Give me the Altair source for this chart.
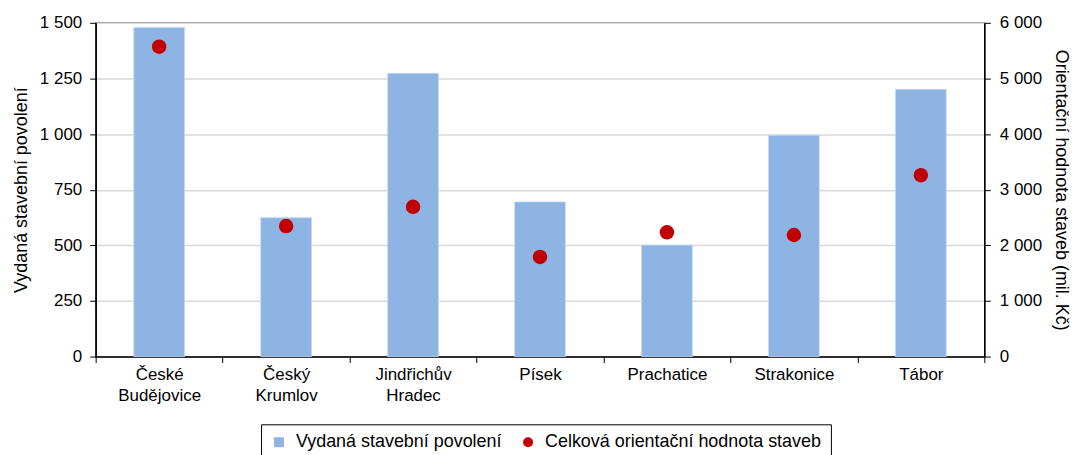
import altair as alt
import pandas as pd

okresy = ["České Budějovice", "Český Krumlov", "Jindřichův Hradec", "Písek",
          "Prachatice", "Strakonice", "Tábor"]
povoleni = [1479, 624, 1273, 695, 501, 995, 1201]
hodnota = [5570, 2346, 2692, 1791, 2233, 2185, 3260]

S1 = "Vydaná stavební povolení"
S2 = "Celková orientační hodnota staveb"

df = pd.DataFrame({"okres": okresy, "povoleni": povoleni, "hodnota": hodnota})

FONT = "Liberation Sans"
num_expr = "replace(format(datum.value, ','), ',', ' ')"

color_scale = alt.Scale(domain=[S1, S2], range=["#8EB4E3", "#C00000"])

x = alt.X("okres:N", sort=okresy, title=None,
          scale=alt.Scale(paddingInner=0, paddingOuter=0),
          axis=alt.Axis(labelAngle=0, labelExpr="split(datum.label, ' ')",
                        tickBand="extent", domainColor="black", tickColor="black",
                        tickSize=6, labelFontSize=17, labelColor="black",
                        labelPadding=4, labelLineHeight=21, labelFont=FONT))

legend = alt.Legend(
    orient="none", legendX=166, legendY=403, direction="horizontal", title=None,
    labelFontSize=18, labelFont=FONT, labelColor="black",
    strokeColor="black", padding=9, labelOffset=8,
    symbolSize=100, columnPadding=17, labelLimit=400,
    symbolStrokeWidth=0,
    symbolType={"expr": "datum.value == '" + S1 + "' ? 'square' : 'circle'"})

bars = alt.Chart(df).transform_calculate(serie="'" + S1 + "'").mark_bar(
    width=alt.RelativeBandSize(0.4), stroke="#C6D9F1", strokeWidth=0.8).encode(
    x=x,
    y=alt.Y("povoleni:Q", title="Vydaná stavební povolení",
            scale=alt.Scale(domain=[0, 1500], nice=False),
            axis=alt.Axis(values=[0, 250, 500, 750, 1000, 1250, 1500], labelExpr=num_expr,
                          grid=True, gridColor="#D9D9D9", gridWidth=1.5,
                          domainColor="black", tickColor="black", tickSize=6,
                          labelFontSize=17, labelColor="black", labelFont=FONT,
                          labelPadding=8,
                          titleFontSize=18, titleFontWeight="normal", titleColor="black",
                          titleFont=FONT, titlePadding=9)),
    color=alt.Color("serie:N", scale=color_scale, legend=legend),
)

points = alt.Chart(df).transform_calculate(serie="'" + S2 + "'").mark_point(
    filled=True, size=210, opacity=1).encode(
    x=x,
    y=alt.Y("hodnota:Q", title="Orientační hodnota staveb (mil. Kč)",
            scale=alt.Scale(domain=[0, 6000], nice=False),
            axis=alt.Axis(orient="right", values=[0, 1000, 2000, 3000, 4000, 5000, 6000],
                          labelExpr=num_expr, grid=False,
                          domainColor="black", tickColor="black", tickSize=6,
                          labelFontSize=17, labelColor="black", labelFont=FONT,
                          labelPadding=9,
                          titleFontSize=18, titleFontWeight="normal", titleColor="black",
                          titleFont=FONT, titlePadding=10)),
    color=alt.Color("serie:N", scale=color_scale, legend=legend),
)

chart = alt.layer(bars, points).resolve_scale(y="independent").properties(
    width=892, height=335,
    padding={"left": 4, "top": 5, "right": 5, "bottom": 5},
).configure_view(stroke="black", strokeWidth=1.2).configure_axis(domainWidth=1.5)

chart.save("out.html", embed_options={"renderer": "svg", "actions": False})
